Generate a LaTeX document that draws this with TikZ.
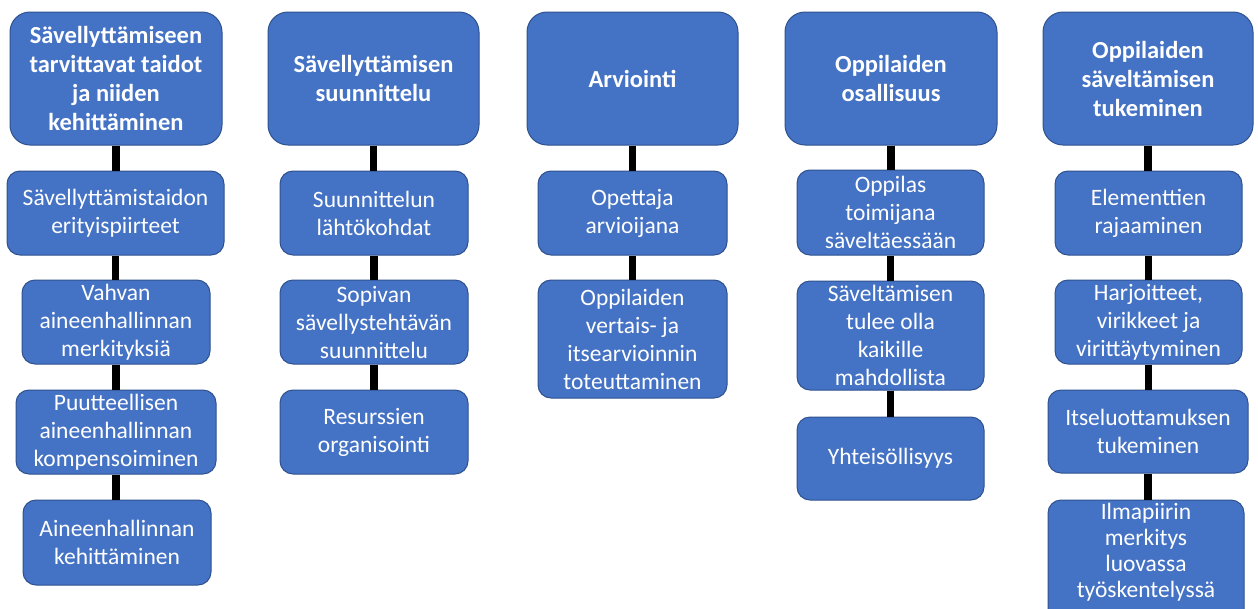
\documentclass[tikz,border=0pt]{standalone}
\usepackage{fontspec}
\setmainfont{Carlito}
\definecolor{boxfill}{HTML}{4472C4}
\definecolor{boxline}{HTML}{2F528F}
\begin{document}
\begin{tikzpicture}[x=1pt,y=-1pt,
  base/.style={draw=boxline, line width=1pt, fill=boxfill, text=white, align=center, inner sep=2pt},
  hdr/.style={base, rounded corners=20pt, font=\bfseries\fontsize{24.5}{29}\selectfont},
  sub/.style={base, rounded corners=13pt, font=\fontsize{23.5}{28}\selectfont},
  conn/.style={line width=7.5pt, draw=black}]
\useasboundingbox[fill=white] (0,0) rectangle (1258,608);
% column 1
\node[hdr, minimum width=212pt, minimum height=133pt] (h1) at (116,78.5) {Sävellyttämiseen\\tarvittavat taidot\\ja niiden\\kehittäminen};
\node[sub, minimum width=217pt, minimum height=84pt] (a1) at (115.5,213) {Sävellyttämistaidon\\erityispiirteet};
\node[sub, minimum width=188pt, minimum height=84pt] (a2) at (116,322) {Vahvan\\aineenhallinnan\\merkityksiä};
\node[sub, minimum width=200pt, minimum height=84pt] (a3) at (116,432) {Puutteellisen\\aineenhallinnan\\kompensoiminen};
\node[sub, minimum width=188pt, minimum height=85pt] (a4) at (117,542.5) {Aineenhallinnan\\kehittäminen};
% column 2
\node[hdr, minimum width=211pt, minimum height=133pt] (h2) at (373.5,78.5) {Sävellyttämisen\\suunnittelu};
\node[sub, minimum width=188pt, minimum height=84pt] (b1) at (374,213) {Suunnittelun\\lähtökohdat};
\node[sub, minimum width=188pt, minimum height=84pt] (b2) at (374,322) {Sopivan\\sävellystehtävän\\suunnittelu};
\node[sub, minimum width=188pt, minimum height=84pt] (b3) at (374,432) {Resurssien\\organisointi};
% column 3
\node[hdr, minimum width=211pt, minimum height=133pt] (h3) at (632.5,78.5) {Arviointi};
\node[sub, minimum width=189pt, minimum height=84pt] (c1) at (632.5,213) {Opettaja\\arvioijana};
\node[sub, minimum width=189pt, minimum height=118pt] (c2) at (632.5,339) {Oppilaiden\\vertais- ja\\itsearvioinnin\\toteuttaminen};
% column 4
\node[hdr, minimum width=212pt, minimum height=133pt] (h4) at (891,78.5) {Oppilaiden\\osallisuus};
\node[sub, minimum width=187pt, minimum height=85pt] (d1) at (890.5,212.5) {Oppilas\\toimijana\\säveltäessään};
\node[sub, minimum width=187pt, minimum height=109pt] (d2) at (890.5,335.5) {Säveltämisen\\tulee olla\\kaikille\\mahdollista};
\node[sub, minimum width=187pt, minimum height=83pt] (d3) at (890.5,458.5) {Yhteisöllisyys};
% column 5
\node[hdr, minimum width=210pt, minimum height=133pt] (h5) at (1148,78.5) {Oppilaiden\\säveltämisen\\tukeminen};
\node[sub, minimum width=187pt, minimum height=84pt] (e1) at (1148.5,213) {Elementtien\\rajaaminen};
\node[sub, minimum width=187pt, minimum height=84pt] (e2) at (1148.5,322) {Harjoitteet,\\virikkeet ja\\virittäytyminen};
\node[sub, minimum width=200pt, minimum height=83pt] (e3) at (1148,431.5) {Itseluottamuksen\\tukeminen};
\node[sub, minimum width=196pt, minimum height=122pt] (e4) at (1146,561) {};
\node[anchor=north, text=white, align=center, inner sep=0pt, font=\fontsize{23.5}{26}\selectfont] (e4t) at (1146,503) {Ilmapiirin\\merkitys\\luovassa\\työskentelyssä};
% connectors
\foreach \u/\v in {h1/a1,a1/a2,a2/a3,a3/a4,h2/b1,b1/b2,b2/b3,h3/c1,c1/c2,h4/d1,d1/d2,d2/d3,h5/e1,e1/e2,e2/e3,e3/e4}
  \draw[conn] (\u.south) -- (\u.south |- \v.north);
\end{tikzpicture}
\end{document}
